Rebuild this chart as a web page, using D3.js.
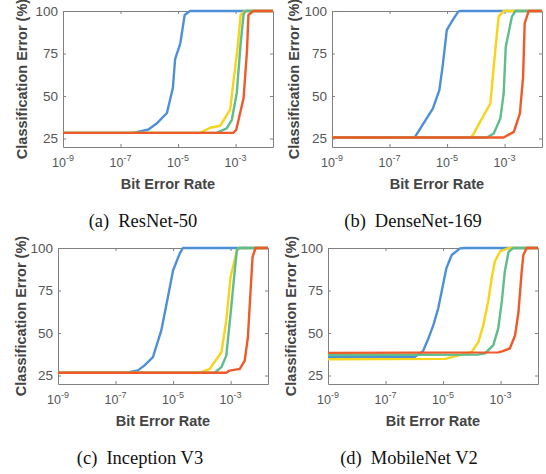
<!DOCTYPE html>
<html>
<head>
<meta charset="utf-8">
<script src="https://cdn.jsdelivr.net/npm/d3@7"></script>
<style>
  body { margin: 0; background: #fff; }
  svg { display: block; }
</style>
</head>
<body>
<svg id="chart" width="546" height="474"></svg>
<script>
// Axis ticks
const berTicks = [1e-9, 1e-7, 1e-5, 1e-3];
const errTicks = [25, 50, 75, 100];
const berDomain = [1e-9, 0.02];
const errDomain = [20, 100];

// (a) ResNet-50  [bit error rate, classification error %]
const resnetBlue = [[1e-9,28.3],[2.8e-7,28.3],[9.3e-7,30.3],[1.8e-6,33.8],[4.1e-6,40],[6.6e-6,54.7],[7.9e-6,71.7],[1.2e-5,81],[1.7e-5,97.7],[2.6e-5,100],[0.02,100]];
const resnetYellow = [[1e-9,28.3],[5.9e-5,28.3],[1.3e-4,31.3],[2.9e-4,32.5],[6.5e-4,42],[8.3e-4,57.6],[1.15e-3,77],[1.5e-3,97.7],[2.1e-3,100],[0.02,100]];
const resnetGreen = [[1e-9,28.3],[2.2e-4,28.3],[4.9e-4,31],[7.4e-4,36],[1.1e-3,51.8],[1.5e-3,81],[1.9e-3,98],[2.2e-3,100],[0.02,100]];
const resnetRed = [[1e-9,28.3],[8.3e-4,28.3],[1.05e-3,30],[1.9e-3,48.8],[2.5e-3,77],[2.8e-3,97.7],[4.2e-3,100],[0.02,100]];

// (b) DenseNet-169
const densenetBlue = [[1e-9,25.6],[7.6e-7,25.8],[3.2e-6,42.6],[5.4e-6,53.4],[7.1e-6,68.2],[9.8e-6,88.8],[1.45e-5,93.7],[2.45e-5,99.6],[2.8e-5,100],[0.02,100]];
const densenetYellow = [[1e-9,25.6],[6.3e-5,25.6],[7.9e-5,26.9],[1.4e-4,34.8],[3.2e-4,45.6],[4.4e-4,71],[6.2e-4,96.7],[9.3e-4,100],[0.02,100]];
const densenetGreen = [[1e-9,25.6],[2.4e-4,25.6],[4.2e-4,27.9],[7.1e-4,36.7],[9.3e-4,51.5],[1.1e-3,79],[1.8e-3,96.7],[2.4e-3,100],[0.02,100]];
const densenetRed = [[1e-9,25.6],[9.3e-4,25.6],[2.1e-3,28.9],[3.4e-3,39.7],[4.4e-3,61.3],[5.0e-3,92.7],[6.9e-3,100],[0.02,100]];

// (c) Inception V3
const inceptionBlue = [[1e-9,26.6],[2.4e-7,26.6],[6.0e-7,28],[1.0e-6,30.8],[2.0e-6,35.8],[3.9e-6,51.5],[6.6e-6,71],[1.0e-5,86.8],[1.7e-5,96.7],[2.2e-5,100],[0.02,100]];
const inceptionYellow = [[1e-9,26.6],[8.3e-5,26.6],[1.9e-4,28.9],[4.8e-4,38.7],[7.1e-4,57.4],[1.0e-3,82.9],[1.66e-3,98.6],[1.95e-3,100],[0.02,100]];
const inceptionGreen = [[1e-9,26.6],[2.8e-4,26.6],[4.8e-4,29.9],[7.1e-4,36.7],[1.0e-3,61.3],[1.4e-3,86.8],[1.66e-3,98.6],[2.0e-3,100],[0.02,100]];
const inceptionRed = [[1e-9,26.6],[7.1e-4,26.6],[9.3e-4,27.9],[2.1e-3,28.9],[3.1e-3,33.8],[4.0e-3,47.5],[5.8e-3,94.7],[7.4e-3,100],[0.02,100]];

// (d) MobileNet V2
const mobilenetBlue = [[1e-9,36],[1.05e-6,36],[2.0e-6,39.3],[3.1e-6,46.8],[4.6e-6,54.6],[6.8e-6,64.5],[8.9e-6,74.3],[1.3e-5,88],[2.0e-5,95.9],[3.9e-5,99.8],[5.8e-5,100],[0.02,100]];
const mobilenetYellow = [[1e-9,34.6],[1.2e-5,34.8],[1.0e-4,38.9],[1.7e-4,44.8],[2.5e-4,54.6],[3.7e-4,68.4],[4.9e-4,82.2],[6.3e-4,92],[9.5e-4,97.8],[1.9e-3,100],[0.02,100]];
const mobilenetGreen = [[1e-9,37.1],[1.6e-4,37.3],[2.9e-4,38],[5.6e-4,42.9],[8.3e-4,52.7],[1.1e-3,68.4],[1.4e-3,86],[1.9e-3,97.8],[2.75e-3,100],[0.02,100]];
const mobilenetRed = [[1e-9,38.3],[8.3e-4,38.6],[1.2e-3,39.3],[2.1e-3,40.9],[3.2e-3,48.7],[4.2e-3,62.5],[5.4e-3,86],[6.2e-3,95.9],[8.1e-3,100],[0.02,100]];

const lineColors = ['#4e8fd6', '#f7d31a', '#5ebd8a', '#ef5a28'];

// Panel layout
const plotW = 210, plotH = 136;
const panels = [
    { left: 63,  top: 11,  ylabX: 27,  caption: ['(a)', 'ResNet-50'],     capX: 143, capY: 227, series: [resnetBlue, resnetYellow, resnetGreen, resnetRed] },
    { left: 332, top: 11,  ylabX: 299, caption: ['(b)', 'DenseNet-169'],  capX: 413, capY: 227, series: [densenetBlue, densenetYellow, densenetGreen, densenetRed] },
    { left: 58,  top: 248, ylabX: 26,  caption: ['(c)', 'Inception V3'],  capX: 140, capY: 464, series: [inceptionBlue, inceptionYellow, inceptionGreen, inceptionRed] },
    { left: 328, top: 248, ylabX: 296, caption: ['(d)', 'MobileNet V2'],  capX: 409, capY: 464, series: [mobilenetBlue, mobilenetYellow, mobilenetGreen, mobilenetRed] }
];

const svg = d3.select('#chart');
const axisColor = '#808080';

panels.forEach((p, idx) => {
    const x = d3.scaleLog().domain(berDomain).range([0, plotW]);
    const y = d3.scaleLinear().domain(errDomain).range([plotH, 0]);

    const g = svg.append('g').attr('transform', `translate(${p.left},${p.top})`);

    // Box axes with inward ticks on all four sides
    const styleAxis = sel => {
        sel.select('.domain').attr('stroke', axisColor).attr('stroke-width', 1);
        sel.selectAll('.tick line').attr('stroke', axisColor);
    };
    g.append('g').attr('transform', `translate(0,${plotH})`)
        .call(d3.axisBottom(x).tickValues(berTicks).tickSizeInner(-3).tickSizeOuter(0).tickFormat(''))
        .call(styleAxis);
    g.append('g')
        .call(d3.axisTop(x).tickValues(berTicks).tickSizeInner(-3).tickSizeOuter(0).tickFormat(''))
        .call(styleAxis);
    g.append('g')
        .call(d3.axisLeft(y).tickValues(errTicks).tickSizeInner(-3).tickSizeOuter(0).tickFormat(''))
        .call(styleAxis);
    g.append('g').attr('transform', `translate(${plotW},0)`)
        .call(d3.axisRight(y).tickValues(errTicks).tickSizeInner(-3).tickSizeOuter(0).tickFormat(''))
        .call(styleAxis);

    // Clip horizontally only, so the 100% lines stay whole on the top border
    const clipId = 'clip' + idx;
    g.append('clipPath').attr('id', clipId)
        .append('rect').attr('y', -4).attr('width', plotW).attr('height', plotH + 8);

    // Lines
    const line = d3.line().x(d => x(d[0])).y(d => y(d[1]));
    const lines = g.append('g').attr('clip-path', `url(#${clipId})`);
    p.series.forEach((s, i) => {
        lines.append('path')
            .datum(s)
            .attr('d', line)
            .attr('fill', 'none')
            .attr('stroke', lineColors[i])
            .attr('stroke-width', 2.4)
            .attr('stroke-linejoin', 'round');
    });

    // Y tick labels
    g.selectAll('.ylab').data(errTicks).enter().append('text')
        .attr('x', -5)
        .attr('y', d => y(d))
        .attr('dy', '0.36em')
        .attr('text-anchor', 'end')
        .attr('font-family', 'Liberation Sans, Arial, sans-serif')
        .attr('font-size', '13.5px')
        .attr('fill', '#555')
        .text(d => d);

    // X tick labels 10^n
    berTicks.forEach(t => {
        const txt = g.append('text')
            .attr('x', x(t))
            .attr('y', plotH + 20)
            .attr('text-anchor', 'middle')
            .attr('font-family', 'Liberation Sans, Arial, sans-serif')
            .attr('fill', '#555');
        txt.append('tspan').attr('font-size', '12.5px').text('10');
        txt.append('tspan').attr('font-size', '9px').attr('dy', -6).text(Math.round(Math.log10(t)));
    });

    // Axis titles
    g.append('text')
        .attr('x', plotW / 2)
        .attr('y', plotH + 42)
        .attr('text-anchor', 'middle')
        .attr('font-family', 'Liberation Sans, Arial, sans-serif')
        .attr('font-weight', 'bold')
        .attr('font-size', '14.5px')
        .attr('fill', '#444')
        .text('Bit Error Rate');

    svg.append('text')
        .attr('transform', `translate(${p.ylabX},${p.top + plotH / 2}) rotate(-90)`)
        .attr('text-anchor', 'middle')
        .attr('font-family', 'Liberation Sans, Arial, sans-serif')
        .attr('font-weight', 'bold')
        .attr('font-size', '14.5px')
        .attr('fill', '#444')
        .text('Classification Error (%)');

    // Caption
    const cap = svg.append('text')
        .attr('x', p.capX)
        .attr('y', p.capY)
        .attr('text-anchor', 'middle')
        .attr('font-family', 'Liberation Serif, Times New Roman, serif')
        .attr('font-size', '18.5px')
        .attr('fill', '#111');
    cap.append('tspan').text(p.caption[0]);
    cap.append('tspan').attr('dx', 9).text(p.caption[1]);
});
</script>
</body>
</html>
